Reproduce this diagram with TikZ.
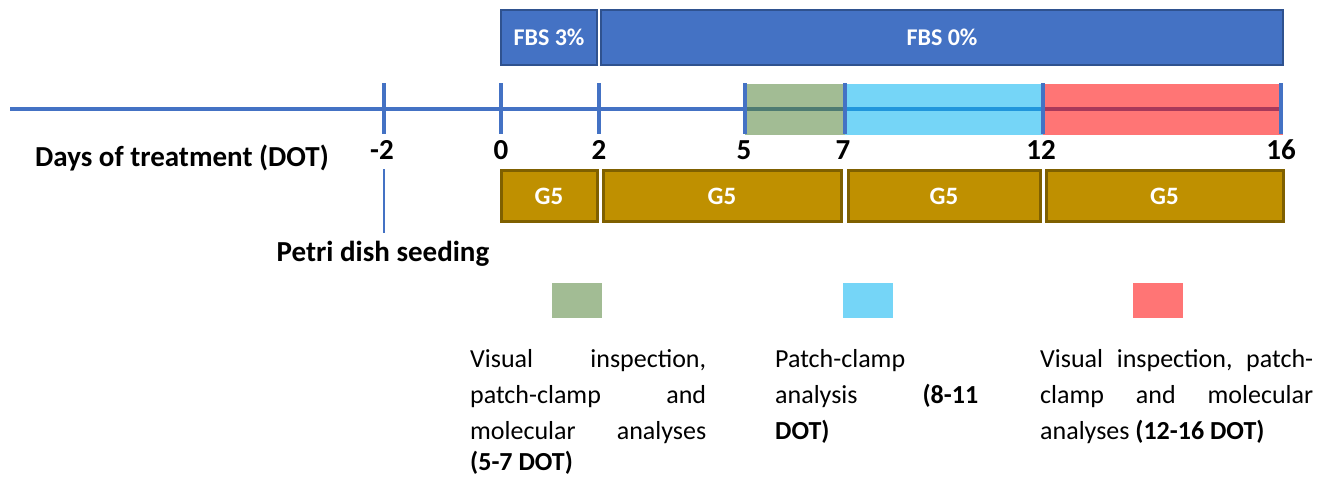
\documentclass[tikz,border=0pt]{standalone}
\usepackage{fontspec}
\setmainfont{Carlito}
\definecolor{axisblue}{HTML}{4472C4}
\definecolor{fbsfill}{HTML}{4472C4}
\definecolor{fbsedge}{HTML}{2F528F}
\definecolor{gfill}{HTML}{BF9000}
\definecolor{gedge}{HTML}{7F6000}
\definecolor{phgreen}{HTML}{A2BC94}
\definecolor{phcyan}{HTML}{75D5F7}
\definecolor{phred}{HTML}{FF7575}
\definecolor{lngreen}{HTML}{4E7B72}
\definecolor{lncyan}{HTML}{2196DC}
\definecolor{lnred}{HTML}{A8395A}
\begin{document}
\begin{tikzpicture}[x=1pt,y=-1pt,
  axis/.style={draw=axisblue,line width=4pt},
  tick/.style={draw=axisblue,line width=4pt},
  fbsbox/.style={draw=fbsedge,line width=1.5pt,fill=fbsfill,text=white,
    font=\bfseries\fontsize{24}{28}\selectfont,inner sep=0pt,minimum height=55pt},
  gbox/.style={draw=gedge,line width=3pt,fill=gfill,text=white,
    font=\bfseries\fontsize{25}{28}\selectfont,inner sep=0pt,minimum height=51pt},
  phase/.style={inner sep=0pt,minimum height=51pt},
  daylbl/.style={anchor=base,inner sep=0pt,font=\bfseries\fontsize{29}{32}\selectfont},
  key/.style={inner sep=0pt,minimum width=50pt,minimum height=35pt},
  legline/.style={anchor=base west,inner sep=0pt,font=\fontsize{26}{30}\selectfont}
]
\useasboundingbox (0,0) rectangle (1324,477);

% medium bars
\node[fbsbox,minimum width=96pt]  (fbs3) at (549,37.5) {FBS 3\%};
\node[fbsbox,minimum width=682pt] (fbs0) at (942,37.5) {FBS 0\%};

% axis and phase shading
\coordinate (start) at (10,109);
\coordinate (d5)  at (745,109);
\coordinate (d7)  at (845,109);
\coordinate (d12) at (1043,109);
\coordinate (d16) at (1281,109);
\draw[axis] (start) -- (d5);
\node[phase,fill=phgreen,minimum width=100pt] (pg) at (795,109.5) {};
\node[phase,fill=phcyan,minimum width=198pt]  (pc) at (944,109.5) {};
\node[phase,fill=phred,minimum width=240pt]   (pr) at (1163,109.5) {};
\draw[draw=lngreen,line width=4pt] (d5) -- (d7);
\draw[draw=lncyan,line width=4pt] (d7) -- (d12);
\draw[draw=lnred,line width=4pt] (d12) -- (d16);

% ticks
\foreach \n/\x in {m2/384,z0/501,t2/599,t5/745,t7/845,t12/1043,t16/1281}{
  \coordinate (\n top) at (\x,83);
  \coordinate (\n bot) at (\x,134);
  \draw[tick] (\n top) -- (\n bot);
}

% day labels
\node[daylbl] (ldot) at (182,166) {Days of treatment (DOT)};
\node[daylbl] (lm2) at (382,159) {-2};
\node[daylbl] (l0)  at (501,159) {0};
\node[daylbl] (l2)  at (599,159) {2};
\node[daylbl] (l5)  at (744,159) {5};
\node[daylbl] (l7)  at (843,159) {7};
\node[daylbl] (l12) at (1041,159) {12};
\node[daylbl] (l16) at (1281,159) {16};

% G5 treatment blocks
\node[gbox,minimum width=96pt]  (g1) at (549,196) {G5};
\node[gbox,minimum width=238pt] (g2) at (722,196) {G5};
\node[gbox,minimum width=192pt] (g3) at (944,196) {G5};
\node[gbox,minimum width=237pt] (g4) at (1164.5,196) {G5};

% seeding marker
\coordinate (seedtop) at (384,169);
\node[daylbl] (seed) at (383,261) {Petri dish seeding};
\draw[draw=axisblue,line width=2pt] (seedtop) -- (384,233);

% legend keys
\node[key,fill=phgreen] (kg) at (577,300.5) {};
\node[key,fill=phcyan]  (kc) at (868,300.5) {};
\node[key,fill=phred]   (kr) at (1157.5,300.5) {};

% legend texts
\node[legline] (a1) at (470,367) {\hbox to 236pt{Visual\hfill inspection,}};
\node[legline] (a2) at (470,403) {\hbox to 236pt{patch-clamp\hfill and}};
\node[legline] (a3) at (470,439) {\hbox to 236pt{molecular\hfill analyses}};
\node[legline] (a4) at (470,470) {\textbf{(5-7 DOT)}};

\node[legline] (b1) at (775,367) {Patch-clamp};
\node[legline] (b2) at (775,403) {\hbox to 203pt{analysis\hfill\textbf{(8-11}}};
\node[legline] (b3) at (775,439) {\textbf{DOT)}};

\node[legline] (c1) at (1040,367) {\hbox to 273pt{Visual\hfill inspection,\hfill patch-}};
\node[legline] (c2) at (1040,403) {\hbox to 273pt{clamp\hfill and\hfill molecular}};
\node[legline] (c3) at (1040,439) {analyses \textbf{(12-16 DOT)}};
\end{tikzpicture}
\end{document}
